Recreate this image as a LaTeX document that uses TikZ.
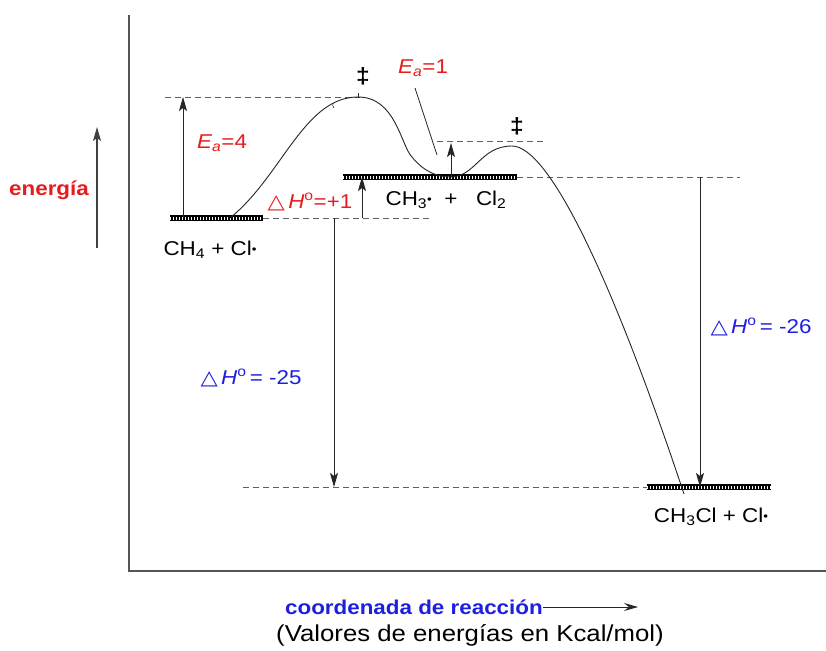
\documentclass[tikz,border=0pt]{standalone}
\usepackage{fontspec}
\setmainfont[FakeStretch=1.12]{Liberation Sans}
\newfontfamily\symfont[FakeStretch=1.12]{DejaVu Sans}
\usetikzlibrary{arrows.meta}
\definecolor{myred}{RGB}{232,28,28}
\definecolor{myblue}{RGB}{30,30,225}
\definecolor{axisgray}{RGB}{85,85,85}
\definecolor{dashgray}{RGB}{95,95,95}
\newcommand{\dH}{{\symfont\char"25B3}\,\textit{H}\textsuperscript{o}}
\newcommand{\rdot}{\raisebox{0.12em}{\fontsize{12}{12}\selectfont•}}
\begin{document}
\begin{tikzpicture}[x=1pt,y=-1pt,
  lvlblack/.style={line width=6pt,black},
  lvlwhite/.style={white,line width=3pt,dash pattern=on 0.9pt off 2.1pt},
  dashl/.style={dashgray,line width=0.8pt,dash pattern=on 6pt off 4pt},
  arr/.style={-{Stealth[length=14pt,width=8pt,inset=3pt]},line width=0.9pt,black!85},
  lbl/.style={font=\fontsize{20}{24}\selectfont,inner sep=0pt},
  redl/.style={lbl,text=myred},
  bluel/.style={lbl,text=myblue},
  curve/.style={line width=0.9pt,black!85}]
\useasboundingbox (0,0) rectangle (826,650);
\fill[white] (0,0) rectangle (826,650);

% axes
\coordinate (ax0) at (129,15);
\coordinate (ax1) at (129,571);
\coordinate (ax2) at (826,571);
\draw[axisgray,line width=1.6pt] (ax0) -- (ax1) -- (ax2);

% energy arrow and label
\coordinate (e0) at (97,248);
\coordinate (e1) at (97,127);
\draw[arr,line width=1.3pt,black!75] (e0) -- (e1);
\node[lbl,font=\fontsize{20}{24}\selectfont\bfseries,text=myred] (energia) at (49,190) {energía};

% level coordinates
\coordinate (A1) at (170,218); \coordinate (A2) at (263,218);
\coordinate (B1) at (343,177); \coordinate (B2) at (517,177);
\coordinate (C1) at (647,487); \coordinate (C2) at (771,487);

% dashed guide lines
\coordinate (dA) at (430,218);
\coordinate (t1a) at (165,97); \coordinate (t1b) at (360,97);
\coordinate (t2a) at (437,141); \coordinate (t2b) at (545,141);
\coordinate (dB) at (740,177);
\coordinate (dC) at (243,487);
\draw[dashl] (A2) -- (dA);
\draw[dashl] (t1a) -- (t1b);
\draw[dashl] (t2a) -- (t2b);
\draw[dashl] (B2) -- (dB);
\draw[dashl] (dC) -- (C1);

% levels
\foreach \p/\q in {A1/A2,B1/B2,C1/C2}{
  \draw[lvlblack] (\p) -- (\q);
  \draw[lvlwhite] (\p) -- (\q);
}

% arrows
\coordinate (ea4a) at (183,218); \coordinate (ea4b) at (183,97);
\draw[arr] (ea4a) -- (ea4b);
\coordinate (dh1a) at (362,218); \coordinate (dh1b) at (362,177);
\draw[arr] (dh1a) -- (dh1b);
\coordinate (ea1a) at (451,177); \coordinate (ea1b) at (451,143);
\draw[arr] (ea1a) -- (ea1b);
\coordinate (dh25a) at (334,218); \coordinate (dh25b) at (334,487);
\draw[arr] (dh25a) -- (dh25b);
\coordinate (dh26a) at (700,177); \coordinate (dh26b) at (700,487);
\draw[arr] (dh26a) -- (dh26b);

% reaction curve
\coordinate (s0) at (230,218);
\coordinate (p1) at (358,97);
\coordinate (k1) at (412,157);
\coordinate (v1) at (450,177);
\coordinate (p2) at (512,146);
\coordinate (s5) at (684,494);
\draw[curve] (s0) .. controls (282,176) and (304,97) .. (p1)
  .. controls (396,97) and (401,146) .. (k1)
  .. controls (424,172) and (438,177) .. (v1)
  .. controls (476,177) and (480,146) .. (p2)
  .. controls (548,146) and (610,272) .. (s5);
% small tick marks near the first maximum
\draw[curve,line width=0.6pt] (333,103) arc (200:140:5);
\draw[curve,line width=0.6pt] (358,93) -- (358,98);

% leader for Ea=1
\coordinate (ld0) at (415,88); \coordinate (ld1) at (437,155);
\draw[line width=0.8pt,black!85] (ld0) -- (ld1);

% double daggers
\node[lbl,font=\fontsize{22}{24}\selectfont\bfseries] (dag1) at (363,76) {‡};
\node[lbl,font=\fontsize{22}{24}\selectfont\bfseries] (dag2) at (517,126) {‡};

% labels
\node[redl] (ea4) at (222,143) {\textit{E}\textsubscript{\textit{a}}=4};
\node[redl] (ea1) at (423,68) {\textit{E}\textsubscript{\textit{a}}=1};
\node[redl] (dh1) at (310,202) {\dH=+1};
\node[bluel] (dh25) at (251,378) {\dH\,= -25};
\node[bluel] (dh26) at (761,327) {\dH\,= -26};
\node[lbl] (lA) at (210,250) {CH\textsubscript{4} + Cl\rdot};
\node[lbl] (lB) at (446,200) {CH\textsubscript{3}\rdot\ \ +\ \ \ Cl\textsubscript{2}};
\node[lbl] (lC) at (711,517) {CH\textsubscript{3}Cl + Cl\rdot};

% bottom
\node[lbl,font=\fontsize{20}{24}\selectfont\bfseries,text=myblue,anchor=east] (coord) at (543,607) {coordenada de reacción};
\coordinate (cend) at (638,607);
\draw[-{Stealth[length=14pt,width=8pt,inset=5pt]},line width=0.8pt,black!85] (coord.east) -- (cend);
\node[lbl,font=\fontsize{23}{27}\selectfont] (vals) at (470,635) {(Valores de energías en Kcal/mol)};
\end{tikzpicture}
\end{document}
